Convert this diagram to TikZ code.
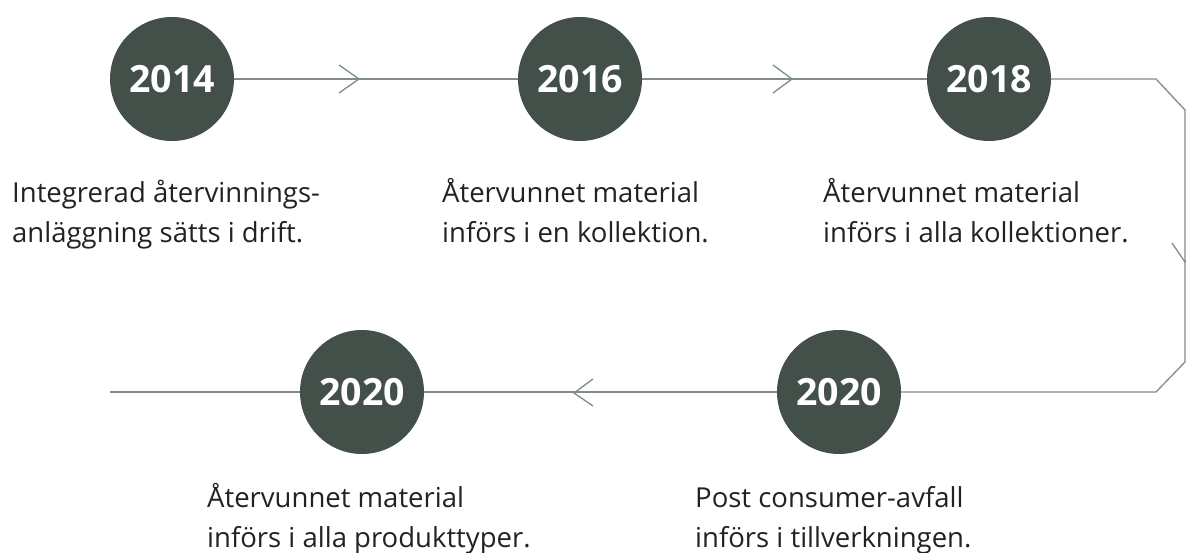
\documentclass[tikz,border=0pt]{standalone}
\usepackage{fontspec}
\setmainfont{Open Sans}
\definecolor{circ}{HTML}{435049}
\definecolor{ln}{HTML}{7F8C87}
\definecolor{txt}{HTML}{222222}
\begin{document}
\begin{tikzpicture}[x=1pt,y=-1pt,
  year/.style={circle,fill=circ,minimum size=124pt,inner sep=0pt,text=white,font=\fontsize{37.5}{40}\selectfont\bfseries},
  conn/.style={draw=ln,line width=1.3pt},
  chev/.style={draw=ln,line width=1.3pt},
  desc/.style={anchor=base west,inner sep=0pt,text=txt,font=\fontsize{27.5}{40}\selectfont,align=left}]
\useasboundingbox (0,0) rectangle (1186,553);
\coordinate (c1) at (1156,79);
\coordinate (c2) at (1185,110);
\coordinate (c3) at (1185,362);
\coordinate (c4) at (1156,392);
\coordinate (e0) at (110,392);
\node[year] (y1) at (172,79) {2014};
\node[year] (y2) at (580,79) {2016};
\node[year] (y3) at (989,79) {2018};
\node[year] (y4) at (362,392) {2020};
\node[year] (y5) at (839,392) {2020};
\draw[conn] (y1.east) -- (y2.west);
\draw[conn] (y2.east) -- (y3.west);
\draw[conn] (y3.east) -- (c1) -- (c2) -- (c3) -- (c4) -- (y5.east);
\draw[conn] (y5.west) -- (y4.east);
\draw[conn] (y4.west) -- (e0);
% chevrons
\draw[chev] (339,65) -- (359,79) -- (339,93);
\draw[chev] (773,65) -- (792,79) -- (773,93);
\draw[chev] (593,379) -- (574,393) -- (593,406);
\draw[chev] (1172,243) -- (1185,262) -- (1198,243);
% texts (anchored at the baseline of the last line)
\node[desc] (t1) at (12,243) {Integrerad återvinnings-\\anläggning sätts i drift.};
\node[desc] (t2) at (442,243) {Återvunnet material\\införs i en kollektion.};
\node[desc] (t3) at (823,243) {Återvunnet material\\införs i alla kollektioner.};
\node[desc] (t4) at (207,547) {Återvunnet material\\införs i alla produkttyper.};
\node[desc] (t5) at (695,547) {Post consumer-avfall\\införs i tillverkningen.};
\end{tikzpicture}
\end{document}
